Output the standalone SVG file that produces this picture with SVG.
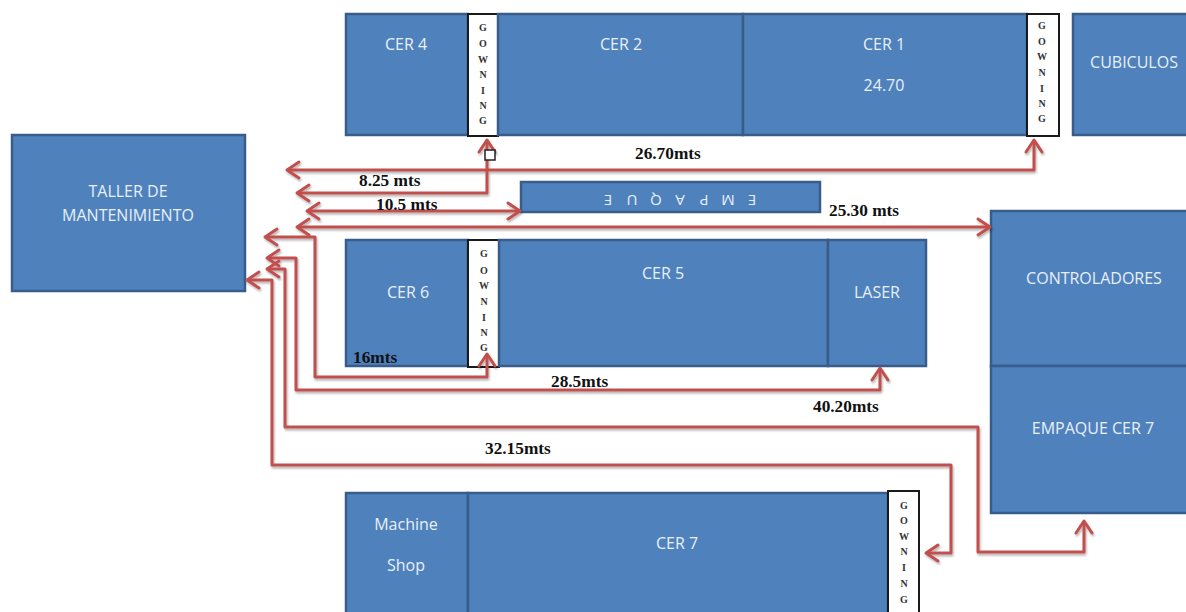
<svg xmlns="http://www.w3.org/2000/svg" width="1186" height="612" viewBox="0 0 1186 612">
<style>
.b{fill:#4f81bd;stroke:#385d8a;stroke-width:2.5}
.g{fill:#fff;stroke:#1a1a1a;stroke-width:2}
.t{font-family:"Open Sans","Noto Sans",sans-serif;font-size:16px;fill:#e8f0f8;text-anchor:middle}
.gt{font-family:"Liberation Serif",serif;font-weight:bold;font-size:10px;fill:#333;text-anchor:middle}
.l{font-family:"Liberation Serif",serif;font-weight:bold;font-size:17.3px;fill:#111}
.c{fill:none;stroke:#c0504d;stroke-width:3;stroke-linejoin:round}
.h{fill:none;stroke:#c0504d;stroke-width:3;stroke-linecap:round;stroke-linejoin:round}
</style>
<defs>
<marker id="a" markerUnits="userSpaceOnUse" markerWidth="30" markerHeight="30" refX="15" refY="15" orient="auto-start-reverse" viewBox="0 0 30 30">
<path class="h" d="M3 7 L15 15 L3 23"/>
</marker>
<filter id="s" x="-5%" y="-5%" width="110%" height="110%"><feDropShadow dx="1" dy="2" stdDeviation="1.2" flood-color="#000" flood-opacity="0.3"/></filter>
</defs>
<g id="cer4"><rect class="b" x="346" y="14" width="122" height="121"/><text class="t" x="406" y="50">CER 4</text></g>
<g id="gowning1"><rect class="g" x="468" y="14" width="30" height="122"/><text class="gt" x="483 483 483 483 483 483 483" y="31 47 63 78 94 109 124">GOWNING</text></g>
<g id="cer2"><rect class="b" x="498" y="14" width="245" height="121"/><text class="t" x="621" y="50">CER 2</text></g>
<g id="cer1"><rect class="b" x="743" y="14" width="284" height="121"/><text class="t" x="884" y="50">CER 1</text><text class="t" x="884" y="91">24.70</text></g>
<g id="gowning2"><rect class="g" x="1027" y="14" width="32" height="122"/><text class="gt" x="1042 1042 1042 1042 1042 1042 1042" y="29 45 60 76 92 107 122">GOWNING</text></g>
<g id="cubiculos"><rect class="b" x="1073" y="14" width="120" height="121"/><text class="t" x="1134" y="68">CUBICULOS</text></g>
<g id="taller"><rect class="b" x="12" y="135" width="233" height="156"/><text class="t" x="128" y="197">TALLER DE</text><text class="t" x="128" y="221">MANTENIMIENTO</text></g>
<g id="empaque"><rect class="b" x="521" y="182" width="299" height="30"/><text class="t" style="font-size:15px" transform="rotate(180 680 201)" x="608 632 656 680 704 728 752" y="207">EMPAQUE</text></g>
<g id="cer6"><rect class="b" x="346" y="240" width="122" height="126"/><text class="t" x="408" y="298">CER 6</text></g>
<g id="gowning3"><rect class="g" x="468" y="240" width="31" height="127"/><text class="gt" x="484 484 484 484 484 484 484" y="257 274 289 305 321 336 351">GOWNING</text></g>
<g id="cer5"><rect class="b" x="499" y="240" width="329" height="126"/><text class="t" x="663" y="279">CER 5</text></g>
<g id="laser"><rect class="b" x="828" y="240" width="98" height="126"/><text class="t" x="877" y="298">LASER</text></g>
<g id="controladores"><rect class="b" x="991" y="211" width="200" height="155"/><text class="t" x="1094" y="284">CONTROLADORES</text></g>
<g id="empaque-cer7"><rect class="b" x="991" y="366" width="200" height="147"/><text class="t" x="1093" y="434">EMPAQUE CER 7</text></g>
<g id="machine-shop"><rect class="b" x="346" y="493" width="122" height="125"/><text class="t" x="406" y="530">Machine</text><text class="t" x="406" y="571">Shop</text></g>
<g id="cer7"><rect class="b" x="468" y="493" width="420" height="125"/><text class="t" x="677" y="549">CER 7</text></g>
<g id="gowning4"><rect class="g" x="888" y="491" width="31" height="127"/><text class="gt" x="904 904 904 904 904 904 904" y="509 524 540 555 571 587 603">GOWNING</text></g>
<g id="connectors" filter="url(#s)">
<path class="c" marker-start="url(#a)" marker-end="url(#a)" d="M287 170H1034V140"/>
<path class="c" marker-start="url(#a)" marker-end="url(#a)" d="M297 193H487V140"/>
<path class="c" marker-start="url(#a)" marker-end="url(#a)" d="M307 211H520"/>
<path class="c" marker-start="url(#a)" marker-end="url(#a)" d="M297 227H990"/>
<path class="c" marker-start="url(#a)" marker-end="url(#a)" d="M265 237H315V377H487V354"/>
<path class="c" marker-start="url(#a)" marker-end="url(#a)" d="M267 258H296V390H880V368"/>
<path class="c" marker-start="url(#a)" marker-end="url(#a)" d="M267 269H285V427H978V552H1084V521"/>
<path class="c" marker-start="url(#a)" marker-end="url(#a)" d="M247 280H272V465H951V553H926"/>
</g>
<rect id="handle" x="485" y="150" width="10" height="10" fill="#fff" stroke="#222" stroke-width="1.5"/>
<g id="labels">
<text class="l" x="635" y="159">26.70mts</text>
<text class="l" x="359" y="186">8.25 mts</text>
<text class="l" x="376" y="210">10.5 mts</text>
<text class="l" x="829" y="216">25.30 mts</text>
<text class="l" x="353" y="363">16mts</text>
<text class="l" x="551" y="387">28.5mts</text>
<text class="l" x="813" y="412">40.20mts</text>
<text class="l" x="485" y="454">32.15mts</text>
</g>
</svg>
